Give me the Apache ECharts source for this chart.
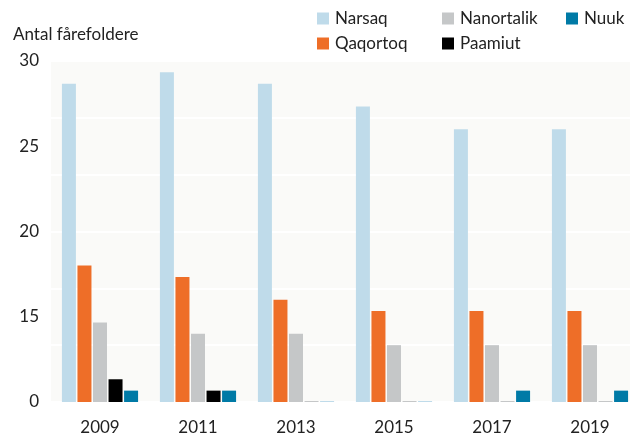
<!DOCTYPE html>
<html>
<head>
<meta charset="utf-8">
<script src="https://cdn.jsdelivr.net/npm/echarts@6/dist/echarts.min.js"></script>
<style>
  html, body { margin: 0; padding: 0; background: #fff; }
  #chart { width: 630px; height: 435px; }
</style>
</head>
<body>
<div id="chart"></div>
<script>
    // data
    const years = ['2009', '2011', '2013', '2015', '2017', '2019'];
    const narsaq = [28, 29, 28, 26, 24, 24];
    const qaqortoq = [12, 11, 9, 8, 8, 8];
    const nanortalik = [7, 6, 6, 5, 5, 5];
    const paamiut = [2, 1, 0, 0, 0, 0];
    const nuuk = [1, 1, 0, 0, 1, 1];
    // the y labels as printed in the original (not evenly matching the grid)
    const yTickLabels = ['0', '15', '20', '25', '30'];

    const font = 'Lato, "Open Sans", sans-serif';
    const colors = {
        Narsaq: '#bfdbea',
        Qaqortoq: '#ee6e28',
        Nanortalik: '#c5c7c8',
        Paamiut: '#000000',
        Nuuk: '#007aa6'
    };

    // zero values are shown as a thin line in the original
    function withZeroLine(values, zeroColor) {
        return values.map(function (v) {
            if (v === 0) return { value: 0, itemStyle: { color: zeroColor } };
            return v;
        });
    }

    function bar(name, data, minH) {
        return {
            name: name,
            type: 'bar',
            yAxisIndex: 0,
            barWidth: 14,
            barGap: '11%',
            barMinHeight: minH || 0,
            itemStyle: { color: colors[name] },
            data: data
        };
    }

    // one legend per entry so each sits where it is in the original
    function legendItem(name, left, top) {
        return {
            data: [name], left: left, top: top, padding: 0,
            itemWidth: 12, itemHeight: 12, icon: 'rect',
            textStyle: { fontFamily: font, fontSize: 17, color: '#222', padding: [0, 0, 0, 1] }
        };
    }

    const myChart = echarts.init(document.getElementById('chart'));
    const option = {
        animation: false,
        title: {
            text: 'Antal fårefoldere',
            left: 13,
            top: 26,
            padding: 0,
            textStyle: { fontFamily: font, fontSize: 17, fontWeight: 'normal', color: '#222' }
        },
        legend: [
            legendItem('Narsaq', 317, 10),
            legendItem('Qaqortoq', 317, 35),
            legendItem('Nanortalik', 442, 10),
            legendItem('Paamiut', 442, 35),
            legendItem('Nuuk', 566, 10)
        ],
        grid: {
            left: 51,
            top: 61,
            width: 588,
            height: 341,
            outerBoundsMode: 'none',
            show: true,
            backgroundColor: '#fafaf8',
            borderWidth: 0
        },
        xAxis: {
            type: 'category',
            data: years,
            axisLine: { show: false },
            axisTick: { show: false },
            axisLabel: { fontFamily: font, fontSize: 17, color: '#222', margin: 17 }
        },
        yAxis: [
            {
                type: 'value',
                min: 0,
                max: 30,
                interval: 7.5,
                splitLine: { show: false },
                axisLine: { show: false },
                axisTick: { show: false },
                axisLabel: {
                    fontFamily: font, fontSize: 17, color: '#222', margin: 12,
                    formatter: function (v) { return yTickLabels[Math.round(v / 7.5)]; }
                }
            },
            {
                type: 'value',
                position: 'left',
                min: 0,
                max: 30,
                interval: 5,
                axisLine: { show: false },
                axisTick: { show: false },
                axisLabel: { show: false },
                splitLine: { show: true, lineStyle: { color: '#ffffff', width: 2 } }
            }
        ],
        series: [
            bar('Narsaq', narsaq),
            bar('Qaqortoq', qaqortoq),
            bar('Nanortalik', nanortalik),
            bar('Paamiut', withZeroLine(paamiut, '#c5c7c8'), 1),
            bar('Nuuk', withZeroLine(nuuk, '#bfdbea'), 1)
        ]
    };
    myChart.setOption(option);
</script>
</body>
</html>
